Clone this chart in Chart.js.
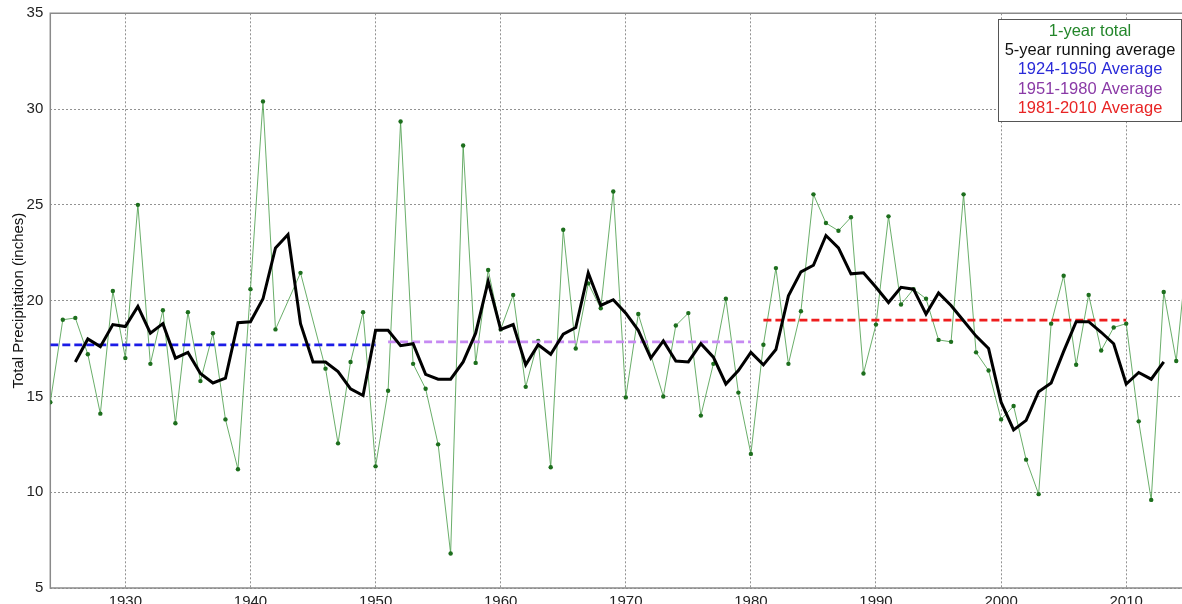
<!DOCTYPE html>
<html>
<head>
<meta charset="utf-8">
<script src="https://cdn.jsdelivr.net/npm/chart.js@4"></script>
<style>
  html, body { margin: 0; padding: 0; background: #fff; overflow: hidden; }
  #wrap { width: 1182px; height: 604px; position: relative; }
</style>
</head>
<body>
<div id="wrap"><canvas id="c"></canvas></div>
<script>
// ---- data ----
const years = [1924,1925,1926,1927,1928,1929,1930,1931,1932,1933,1934,1935,1936,1937,1938,1939,1940,1941,1942,1943,1944,1945,1946,1947,1948,1949,
  1950,1951,1952,1953,1954,1955,1956,1957,1958,1959,1960,1961,1962,1963,1964,1965,1966,1967,1968,1969,1970,1971,1972,1973,1974,1975,1976,1977,1978,1979,
  1980,1981,1982,1983,1984,1985,1986,1987,1988,1989,1990,1991,1992,1993,1994,1995,1996,1997,1998,1999,2000,2001,2002,2003,2004,2005,2006,2007,2008,2009,
  2010,2011,2012,2013,2014,2015];
const annualTotal = [14.7,19.0,19.1,17.2,14.1,20.5,17.0,25.0,16.7,19.5,13.6,19.4,15.8,18.3,13.8,11.2,20.6,30.4,18.5,null,21.45,null,16.45,12.55,16.8,19.4,
  11.35,15.3,29.35,16.7,15.4,12.5,6.8,28.1,16.75,21.6,18.5,20.3,15.5,17.9,11.3,23.7,17.5,20.9,19.6,25.7,14.95,19.3,null,15.0,18.7,19.35,14.0,16.7,20.1,15.2,
  12.0,17.7,21.7,16.7,19.45,25.55,24.05,23.65,24.35,16.2,18.75,24.4,19.8,20.6,20.1,17.95,17.85,25.55,17.3,16.35,13.8,14.5,11.7,9.9,18.8,21.3,16.65,20.3,17.4,18.6,
  18.8,13.7,9.6,20.45,16.85,23.4];
const avgYears = [1926,1927,1928,1929,1930,1931,1932,1933,1934,1935,1936,1937,1938,1939,1940,1941,1942,1943,1944,1945,1946,1947,1948,1949,
  1950,1951,1952,1953,1954,1955,1956,1957,1958,1959,1960,1961,1962,1963,1964,1965,1966,1967,1968,1969,1970,1971,1972,1973,1974,1975,1976,1977,1978,1979,
  1980,1981,1982,1983,1984,1985,1986,1987,1988,1989,1990,1991,1992,1993,1994,1995,1996,1997,1998,1999,2000,2001,2002,2003,2004,2005,2006,2007,2008,2009,
  2010,2011,2012,2013];
const runningAvg = [16.8,18.0,17.6,18.75,18.65,19.7,18.3,18.8,17.0,17.3,16.2,15.7,15.95,18.85,18.9,20.1,22.75,23.45,18.8,16.8,16.8,16.3,15.4,15.05,
  18.45,18.45,17.65,17.75,16.15,15.9,15.9,16.8,18.3,21.0,18.5,18.75,16.65,17.7,17.2,18.25,18.6,21.45,19.75,20.05,19.35,18.45,17.0,17.9,16.85,16.8,17.75,17.05,15.65,16.35,
  17.3,16.65,17.45,20.25,21.5,21.85,23.4,22.75,21.4,21.45,20.7,19.9,20.7,20.6,19.3,20.4,19.75,18.95,18.15,17.5,14.7,13.25,13.75,15.25,15.7,17.35,18.9,18.9,18.35,17.75,
  15.65,16.25,15.9,16.8];
const periodLabels = ["1924-1950 Average","1951-1980 Average","1981-2010 Average"];
const periodStart = [1924, 1951, 1981];
const periodEnd = [1950, 1980, 2010];
const periodMean = [17.69, 17.85, 18.98];
const xTicks = [1930,1940,1950,1960,1970,1980,1990,2000,2010];
const yTicks = [5,10,15,20,25,30,35];
const legendTexts = ["1-year total","5-year running average","1924-1950 Average","1951-1980 Average","1981-2010 Average"];

// ---- styles ----
const periodColors = ['#1c1ce6', '#c68af2', '#ee1d1d'];
const legendColors = ['#23862a', '#111111', '#2a2ad8', '#8a3aa6', '#e82424'];
const FONT = "'Liberation Sans', Arial, sans-serif";

const datasets = [
  {
    label: legendTexts[0],
    data: years.map((y, i) => ({x: y, y: annualTotal[i]})),
    borderColor: 'rgba(80,160,80,0.85)',
    borderWidth: 1,
    pointRadius: 2.2,
    pointBackgroundColor: '#1d6e1d',
    pointBorderWidth: 0,
    spanGaps: true,
    tension: 0,
    order: 3
  },
  {
    label: legendTexts[1],
    data: avgYears.map((y, i) => ({x: y, y: runningAvg[i]})),
    borderColor: '#000',
    borderWidth: 3,
    pointRadius: 0,
    tension: 0,
    order: 1
  }
];
periodLabels.forEach((lab, k) => {
  datasets.push({
    label: lab,
    data: [{x: periodStart[k], y: periodMean[k]}, {x: periodEnd[k], y: periodMean[k]}],
    borderColor: periodColors[k],
    borderWidth: 2.8,
    borderDash: [8, 4],
    pointRadius: 0,
    order: 2
  });
});

const framePlugin = {
  id: 'frame',
  beforeDatasetsDraw(chart) {
    const {ctx, chartArea: a} = chart;
    ctx.save();
    ctx.strokeStyle = '#8a8a8a';
    ctx.lineWidth = 1.5;
    ctx.beginPath();
    ctx.moveTo(a.right + 2, a.top);
    ctx.lineTo(a.left, a.top);
    ctx.lineTo(a.left, a.bottom);
    ctx.lineTo(a.right + 2, a.bottom);
    ctx.stroke();
    ctx.restore();
  }
};

const legendPlugin = {
  id: 'boxLegend',
  afterDraw(chart) {
    const {ctx} = chart;
    const x0 = 998, y0 = 19, w = 183, h = 102;
    ctx.save();
    ctx.fillStyle = '#fff';
    ctx.fillRect(x0, y0, w, h);
    ctx.strokeStyle = '#555';
    ctx.lineWidth = 1;
    ctx.strokeRect(x0 + 0.5, y0 + 0.5, w, h);
    ctx.font = '16.5px ' + FONT;
    ctx.textAlign = 'center';
    ctx.textBaseline = 'middle';
    legendTexts.forEach((t, i) => {
      ctx.fillStyle = legendColors[i];
      ctx.fillText(t, x0 + w / 2 + 0.5, 31.5 + i * 19.2);
    });
    ctx.restore();
  }
};

new Chart(document.getElementById('c'), {
  type: 'line',
  data: { datasets },
  options: {
    responsive: true,
    maintainAspectRatio: false,
    animation: false,
    layout: { autoPadding: false, padding: { top: 13.3, left: 0, right: 0, bottom: 0 } },
    plugins: { legend: { display: false }, tooltip: { enabled: false } },
    scales: {
      x: {
        type: 'linear',
        min: 1924,
        max: 2014.46,
        afterBuildTicks: (s) => { s.ticks = xTicks.map(v => ({value: v})); },
        afterFit: (s) => { s.height = 16; s.paddingLeft = 0; s.paddingRight = 0; },
        grid: { color: 'rgba(110,110,110,0.75)', lineWidth: 1, drawTicks: false },
        border: { display: false, dash: [2, 2] },
        ticks: { padding: 5, color: '#222', font: { family: FONT, size: 15 }, maxRotation: 0, autoSkip: false,
                 callback: (v) => String(v) }
      },
      y: {
        min: 5,
        max: 35,
        afterBuildTicks: (s) => { s.ticks = yTicks.map(v => ({value: v})); },
        afterFit: (s) => { s.width = 50.3; s.paddingTop = 0; s.paddingBottom = 0; },
        grid: { color: 'rgba(110,110,110,0.75)', lineWidth: 1, drawTicks: false },
        border: { display: false, dash: [2, 2] },
        ticks: { padding: 7, color: '#222', font: { family: FONT, size: 15 }, callback: (v) => String(v) },
        title: { display: true, text: 'Total Precipitation (inches)', color: '#111',
                 font: { family: FONT, size: 15 }, padding: { top: 10, bottom: 0 } }
      }
    }
  },
  plugins: [framePlugin, legendPlugin]
});
</script>
</body>
</html>
